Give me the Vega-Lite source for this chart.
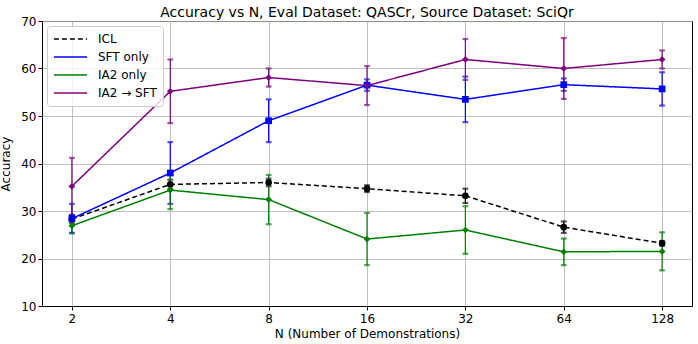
{
  "$schema": "https://vega.github.io/schema/vega-lite/v6.json",
  "width": 650,
  "height": 285,
  "autosize": {"type": "none"},
  "padding": {"left": 42, "top": 21, "right": 6, "bottom": 38},
  "title": {"text": "Accuracy vs N, Eval Dataset: QASCr, Source Dataset: SciQr", "font": "DejaVu Sans", "fontSize": 14, "fontWeight": "normal", "color": "black", "offset": -5},
  "data": {"values": [
    {"series": "ICL", "n": 2, "acc": 28.3, "lo": 27.5, "hi": 29.1},
    {"series": "ICL", "n": 4, "acc": 35.6, "lo": 34.6, "hi": 36.6},
    {"series": "ICL", "n": 8, "acc": 36.0, "lo": 35.2, "hi": 36.8},
    {"series": "ICL", "n": 16, "acc": 34.7, "lo": 34.0, "hi": 35.4},
    {"series": "ICL", "n": 32, "acc": 33.2, "lo": 31.7, "hi": 34.7},
    {"series": "ICL", "n": 64, "acc": 26.6, "lo": 25.4, "hi": 27.8},
    {"series": "ICL", "n": 128, "acc": 23.2, "lo": 22.7, "hi": 23.7},
    {"series": "SFT only", "n": 2, "acc": 28.4, "lo": 25.3, "hi": 31.5},
    {"series": "SFT only", "n": 4, "acc": 38.0, "lo": 31.5, "hi": 44.5},
    {"series": "SFT only", "n": 8, "acc": 49.0, "lo": 44.5, "hi": 53.5},
    {"series": "SFT only", "n": 16, "acc": 56.5, "lo": 55.3, "hi": 57.7},
    {"series": "SFT only", "n": 32, "acc": 53.5, "lo": 48.7, "hi": 58.3},
    {"series": "SFT only", "n": 64, "acc": 56.6, "lo": 55.3, "hi": 57.9},
    {"series": "SFT only", "n": 128, "acc": 55.7, "lo": 52.2, "hi": 59.2},
    {"series": "IA2 only", "n": 2, "acc": 26.9, "lo": 25.4, "hi": 28.4},
    {"series": "IA2 only", "n": 4, "acc": 34.4, "lo": 30.4, "hi": 38.4},
    {"series": "IA2 only", "n": 8, "acc": 32.4, "lo": 27.2, "hi": 37.6},
    {"series": "IA2 only", "n": 16, "acc": 24.1, "lo": 18.6, "hi": 29.6},
    {"series": "IA2 only", "n": 32, "acc": 26.0, "lo": 21.0, "hi": 31.0},
    {"series": "IA2 only", "n": 64, "acc": 21.4, "lo": 18.6, "hi": 24.2},
    {"series": "IA2 only", "n": 128, "acc": 21.5, "lo": 17.5, "hi": 25.5},
    {"series": "IA2 → SFT", "n": 2, "acc": 35.2, "lo": 29.2, "hi": 41.2},
    {"series": "IA2 → SFT", "n": 4, "acc": 55.2, "lo": 48.5, "hi": 61.9},
    {"series": "IA2 → SFT", "n": 8, "acc": 58.1, "lo": 56.2, "hi": 60.0},
    {"series": "IA2 → SFT", "n": 16, "acc": 56.4, "lo": 52.3, "hi": 60.5},
    {"series": "IA2 → SFT", "n": 32, "acc": 61.9, "lo": 57.6, "hi": 66.2},
    {"series": "IA2 → SFT", "n": 64, "acc": 60.0, "lo": 53.6, "hi": 66.4},
    {"series": "IA2 → SFT", "n": 128, "acc": 61.9, "lo": 60.0, "hi": 63.8}
  ]},
  "encoding": {
    "x": {"field": "n", "type": "quantitative",
      "scale": {"type": "log", "base": 2, "domain": [1.62, 158], "nice": false},
      "axis": {"values": [2, 4, 8, 16, 32, 64, 128], "title": "N (Number of Demonstrations)", "format": "d"}}
  },
  "resolve": {"legend": {"shape": "independent", "fill": "independent", "stroke": "independent"}},
  "layer": [
    {
      "mark": {"type": "errorbar", "ticks": {"size": 5}, "thickness": 1.2},
      "encoding": {
        "y": {"field": "lo", "type": "quantitative", "scale": {"domain": [10, 70]}, "title": "Accuracy"},
        "y2": {"field": "hi"},
        "stroke": {"field": "series", "type": "nominal",
          "scale": {"domain": ["ICL", "SFT only", "IA2 only", "IA2 → SFT"], "range": ["#000000", "#0000ff", "#008000", "#800080"]},
          "legend": null}
      }
    },
    {
      "mark": {"type": "line", "strokeWidth": 1.5},
      "encoding": {
        "y": {"field": "acc", "type": "quantitative"},
        "color": {"field": "series", "type": "nominal",
          "scale": {"domain": ["ICL", "SFT only", "IA2 only", "IA2 → SFT"], "range": ["#000000", "#0000ff", "#008000", "#800080"]},
          "legend": {"title": null, "orient": "top-left", "offset": 5, "symbolType": "stroke", "symbolSize": 1100, "clipHeight": 14, "symbolStrokeWidth": 1.5, "labelFontSize": 12, "labelFont": "DejaVu Sans", "labelColor": "black", "labelOffset": 10, "rowPadding": 4, "padding": 6, "strokeColor": "#cccccc", "fillColor": "rgba(255,255,255,0.8)", "cornerRadius": 3}},
        "strokeDash": {"field": "series", "type": "nominal",
          "scale": {"domain": ["ICL", "SFT only", "IA2 only", "IA2 → SFT"], "range": [[5, 3], [1, 0], [1, 0], [1, 0]]},
          "legend": {"title": null, "orient": "top-left", "offset": 5, "symbolType": "stroke", "symbolSize": 1100, "clipHeight": 14, "symbolStrokeWidth": 1.5, "labelFontSize": 12, "labelFont": "DejaVu Sans", "labelColor": "black", "labelOffset": 10, "rowPadding": 4, "padding": 6, "strokeColor": "#cccccc", "fillColor": "rgba(255,255,255,0.8)", "cornerRadius": 3}}
      }
    },
    {
      "mark": {"type": "point", "filled": true, "opacity": 1},
      "encoding": {
        "y": {"field": "acc", "type": "quantitative"},
        "fill": {"field": "series", "type": "nominal",
          "scale": {"domain": ["ICL", "SFT only", "IA2 only", "IA2 → SFT"], "range": ["#000000", "#0000ff", "#008000", "#800080"]}, "legend": null},
        "shape": {"field": "series", "type": "nominal",
          "scale": {"domain": ["ICL", "SFT only", "IA2 only", "IA2 → SFT"], "range": ["circle", "square", "diamond", "diamond"]}, "legend": null},
        "size": {"value": 45}
      }
    }
  ],
  "config": {
    "font": "DejaVu Sans",
    "view": {"stroke": "black", "strokeWidth": 1},
    "axis": {"labelFontSize": 12, "titleFontSize": 12, "titleFontWeight": "normal", "labelColor": "black", "titleColor": "black", "tickColor": "black", "domainColor": "black", "gridColor": "#b0b0b0", "gridWidth": 0.8, "tickSize": 4, "labelFont": "DejaVu Sans", "titleFont": "DejaVu Sans"},
    "axisY": {"values": [10, 20, 30, 40, 50, 60, 70], "titlePadding": 8},
    "axisX": {"titlePadding": 4, "labelPadding": 3}
  }
}
